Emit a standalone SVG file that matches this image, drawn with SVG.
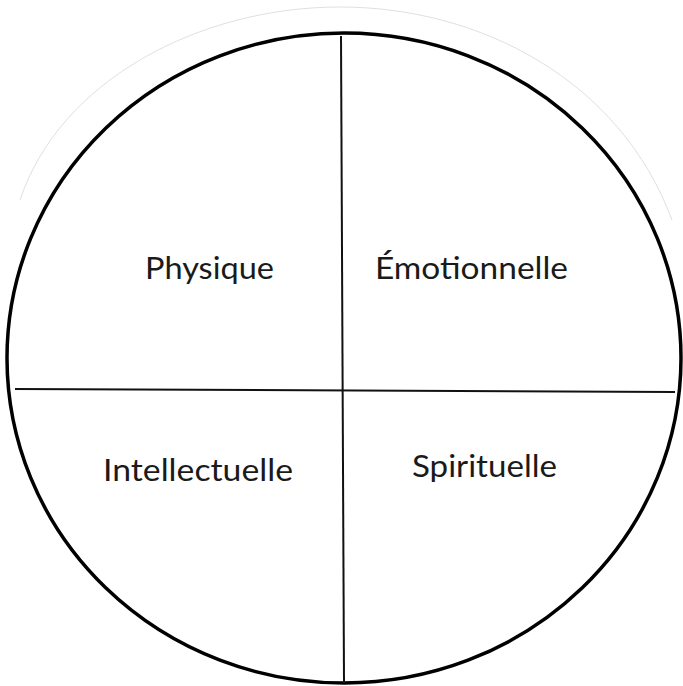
<svg xmlns="http://www.w3.org/2000/svg" width="683" height="686" viewBox="0 0 683 686">
<style>
.lbl{font-family:Lato,"Open Sans",sans-serif;font-size:31px;fill:#1a1a1a}
.div{stroke:#111;stroke-width:2;fill:none}
</style>
<rect width="683" height="686" fill="#fff"/>
<path d="M20,200 C60,80 200,7 340,7 C480,7 620,80 672,220" fill="none" stroke="#e0e0e0" stroke-width="1"/>
<g id="circle">
<ellipse cx="344" cy="358" rx="337" ry="325" fill="none" stroke="#000" stroke-width="3.5"/>
</g>
<g id="connectors">
<line class="div" x1="341" y1="36" x2="344" y2="683"/>
<line class="div" x1="15" y1="389" x2="675" y2="392"/>
</g>
<g id="physique"><text class="lbl" x="145" y="279" textLength="129" lengthAdjust="spacingAndGlyphs">Physique</text></g>
<g id="emotionnelle"><text class="lbl" x="375" y="279" textLength="193" lengthAdjust="spacingAndGlyphs">Émotionnelle</text></g>
<g id="intellectuelle"><text class="lbl" x="103" y="481" textLength="190" lengthAdjust="spacingAndGlyphs">Intellectuelle</text></g>
<g id="spirituelle"><text class="lbl" x="412" y="477" textLength="145" lengthAdjust="spacingAndGlyphs">Spirituelle</text></g>
</svg>
